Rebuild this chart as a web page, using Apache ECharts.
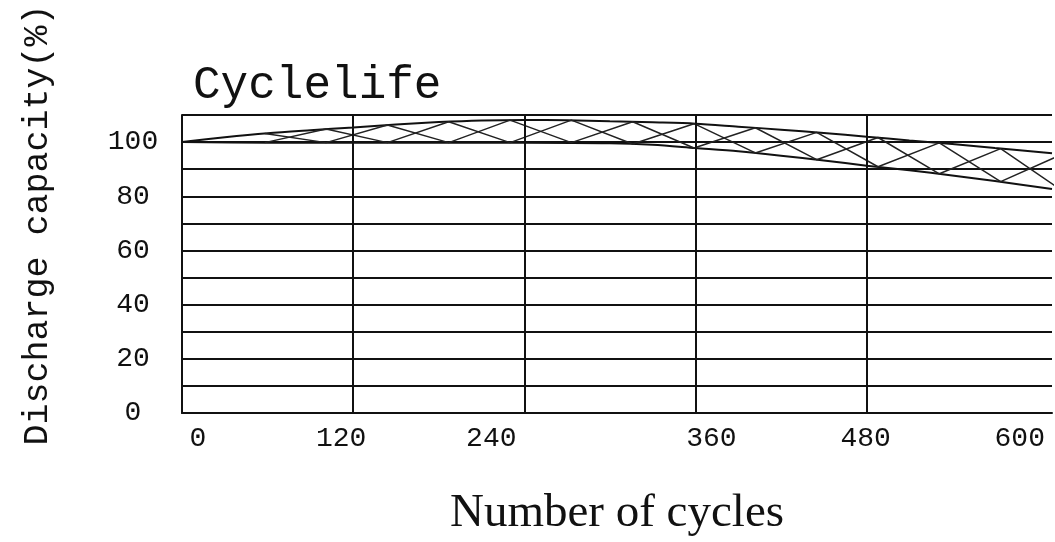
<!DOCTYPE html>
<html>
<head>
<meta charset="utf-8">
<script src="https://cdn.jsdelivr.net/npm/echarts@6/dist/echarts.min.js"></script>
<style>
html,body{margin:0;padding:0;background:#fff;}
#chart{width:1055px;height:542px;}
</style>
</head>
<body>
<div id="chart"></div>
<script>
// ---- data ----
const titleText = 'Cyclelife';
const xAxisName = 'Number of cycles';
const yAxisName = 'Discharge capacity(%)';
const xTickLabels = ['0', '120', '240', '360', '480', '600'];
const yTickLabels = ['0', '20', '40', '60', '80', '100'];
const verticalGridCycles = [120, 240, 360, 480];

const upperCurve = [[0,100],[30,101.8],[60,103.3],[90,104.4],[120,105.4],[150,106.5],[180,107.4],[210,108],[240,108.2],[270,108.1],[300,107.7],[330,107.3],[360,106.8],[390,105.7],[420,104.6],[450,103.4],[480,102],[510,100.6],[540,99.3],[570,97.8],[610,95.9]];
const lowerCurve = [[0,100],[60,99.8],[120,99.8],[180,99.8],[240,99.8],[300,99.6],[330,99],[360,97.8],[390,96.6],[420,95.0],[450,93.2],[480,91.3],[510,89.6],[540,87.7],[570,85.6],[610,82.7]];
const hatchA = [[58,99.8],[101,104.8],[144,99.8],[187,107.5],[230,99.8],[273,108.1],[316,99.3],[359,106.8],[402,96.0],[445,103.6],[488,90.9],[531,99.7],[574,85.4],[617,95.5]];
const hatchB = [[58,103.2],[101,99.8],[144,106.3],[187,99.8],[230,108.1],[273,99.8],[316,107.5],[359,97.8],[402,105.3],[445,93.5],[488,101.7],[531,88.3],[574,97.6],[617,82.1]];

// ---- styling ----
const MONO = '"Liberation Mono", "DejaVu Sans Mono", monospace';
const SERIF = '"Liberation Serif", "DejaVu Serif", serif';
const INK = '#111';
const xLabelShift = [16, -12, -33, 16, -1, -18];
const rich = {};
xLabelShift.forEach((s, i) => {
  rich['s' + i] = {
    fontFamily: MONO, fontSize: 28, color: INK,
    padding: s >= 0 ? [0, 0, 0, 2 * s] : [0, -2 * s, 0, 0]
  };
});

const chart = echarts.init(document.getElementById('chart'));
const lineBase = { type: 'line', symbol: 'none', silent: true, animation: false };

chart.setOption({
  animation: false,
  backgroundColor: '#fff',
  title: {
    text: titleText, left: 188, top: 58,
    textStyle: { fontFamily: MONO, fontSize: 46, fontWeight: 'normal', color: INK }
  },
  grid: { left: 182, right: 0, top: 115, bottom: 129, containLabel: false },
  xAxis: {
    type: 'value', min: 0, max: 610, interval: 120,
    name: xAxisName, nameLocation: 'middle', nameGap: 77,
    nameTextStyle: { fontFamily: SERIF, fontSize: 47, color: INK },
    axisLine: { show: true, lineStyle: { color: INK, width: 2 } },
    axisTick: { show: false },
    splitLine: { show: false },
    axisLabel: {
      margin: 12, fontFamily: MONO, fontSize: 28, color: INK, rich: rich,
      formatter: function (v) {
        if (v % 120 !== 0) return '';
        const i = v / 120;
        return i < xTickLabels.length ? '{s' + i + '|' + xTickLabels[i] + '}' : '';
      }
    }
  },
  yAxis: {
    type: 'value', min: 0, max: 110, interval: 10,
    name: yAxisName, nameLocation: 'middle', nameGap: 127,
    nameTextStyle: { fontFamily: MONO, fontSize: 35, color: INK, padding: [0, 0, 0, 78] },
    axisLine: { show: true, lineStyle: { color: INK, width: 2 } },
    axisTick: { show: false },
    splitLine: { show: true, lineStyle: { color: INK, width: 2 } },
    axisLabel: {
      margin: 49, align: 'center', fontFamily: MONO, fontSize: 28, color: INK,
      padding: [5, 0, 0, 0],
      formatter: function (v) {
        if (v % 20 !== 0) return '';
        const i = v / 20;
        return i < yTickLabels.length ? yTickLabels[i] : '';
      }
    }
  },
  series: [
    Object.assign({}, lineBase, {
      name: 'upper', data: upperCurve, smooth: 0.3,
      lineStyle: { color: INK, width: 2 },
      markLine: {
        silent: true, symbol: 'none', animation: false,
        label: { show: false },
        lineStyle: { color: INK, width: 2, type: 'solid' },
        data: verticalGridCycles.map(c => ({ xAxis: c }))
      }
    }),
    Object.assign({}, lineBase, {
      name: 'lower', data: lowerCurve, smooth: 0.3,
      lineStyle: { color: INK, width: 2 }
    }),
    Object.assign({}, lineBase, {
      name: 'hatchA', data: hatchA,
      lineStyle: { color: '#222', width: 1.5 }
    }),
    Object.assign({}, lineBase, {
      name: 'hatchB', data: hatchB,
      lineStyle: { color: '#222', width: 1.5 }
    })
  ]
});
</script>
</body>
</html>
